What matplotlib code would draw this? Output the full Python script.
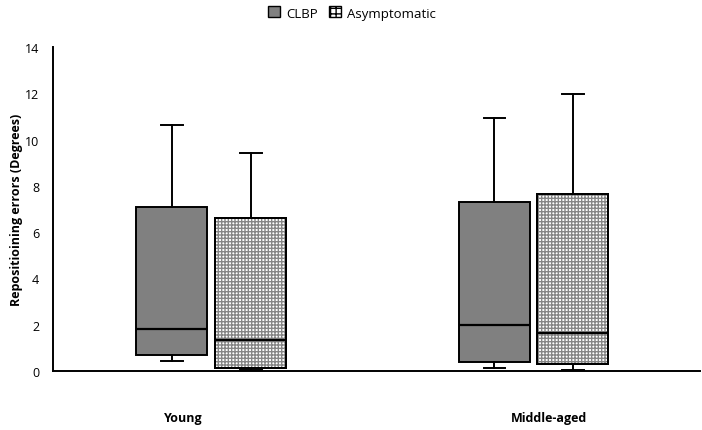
import matplotlib
matplotlib.use("Agg")
import matplotlib.pyplot as plt
from matplotlib.patches import Patch

plt.rcParams['font.family'] = ['Open Sans', 'DejaVu Sans']
plt.rcParams['hatch.linewidth'] = 1.0

groups = ["Young", "Middle-aged"]
series = ["CLBP", "Asymptomatic"]
# per group, per series: [whislo, q1, med, q3, whishi]
clbp_stats = [[0.43, 0.69, 1.83, 7.07, 10.63],
              [0.13, 0.39, 2.00, 7.30, 10.93]]
asym_stats = [[0.05, 0.12, 1.33, 6.61, 9.41],
              [0.04, 0.30, 1.66, 7.65, 11.97]]
yticks = [0, 2, 4, 6, 8, 10, 12, 14]

fig = plt.figure(figsize=(7.02, 4.31), dpi=100)
ax = fig.add_axes([53/702, 1-372/431, 647/702, 324/431])

def mk(s):
    return dict(whislo=s[0], q1=s[1], med=s[2], q3=s[3], whishi=s[4], fliers=[])

pos_c = [0.3675, 1.364]
pos_a = [0.6117, 1.607]
w = 0.22
common = dict(widths=w, patch_artist=True, showfliers=False,
              whiskerprops=dict(color='black', linewidth=1.4),
              capprops=dict(color='black', linewidth=1.4),
              medianprops=dict(color='black', linewidth=1.6))
capw = 0.066
b1 = ax.bxp([mk(s) for s in clbp_stats], positions=pos_c, capwidths=capw,
            boxprops=dict(facecolor='#808080', edgecolor='black', linewidth=1.4), **common)
b2 = ax.bxp([mk(s) for s in asym_stats], positions=pos_a, capwidths=capw,
            boxprops=dict(facecolor='white', edgecolor='black', linewidth=1.4), **common)
for p in b2['boxes']:
    p.set_hatch('+++++')
    p.set_edgecolor('black')
    p.set_antialiased(False)
    p._hatch_color = (0.52, 0.52, 0.52, 1.0)

ax.set_xlim(0, 2)
ax.set_ylim(0, 14)
ax.set_yticks(yticks)
ax.set_yticklabels([str(t) for t in yticks], fontsize=9)
ax.tick_params(axis='y', length=0, pad=10)
ax.set_xticks([0.402, 1.532])
ax.set_xticklabels(groups, fontsize=9, fontweight='bold')
ax.tick_params(axis='x', length=0, pad=29)
for s in ['top', 'right']:
    ax.spines[s].set_visible(False)
ax.spines['left'].set_linewidth(1.4)
ax.spines['bottom'].set_linewidth(1.4)
ax.set_ylabel("Repositioining errors (Degrees)", fontsize=9, fontweight='bold', labelpad=1)

h1 = Patch(facecolor='#808080', edgecolor='black', linewidth=1.0, label=series[0])
h2 = Patch(facecolor='white', edgecolor='black', linewidth=1.0, hatch='+++', label=series[1])
fig.legend(handles=[h1, h2], loc='center', bbox_to_anchor=(352/702, 1-14/431),
           ncol=2, frameon=False, fontsize=9.5, handlelength=0.9, handleheight=0.9,
           handletextpad=0.5, columnspacing=0.8)

fig.savefig("out.png", dpi=100)
